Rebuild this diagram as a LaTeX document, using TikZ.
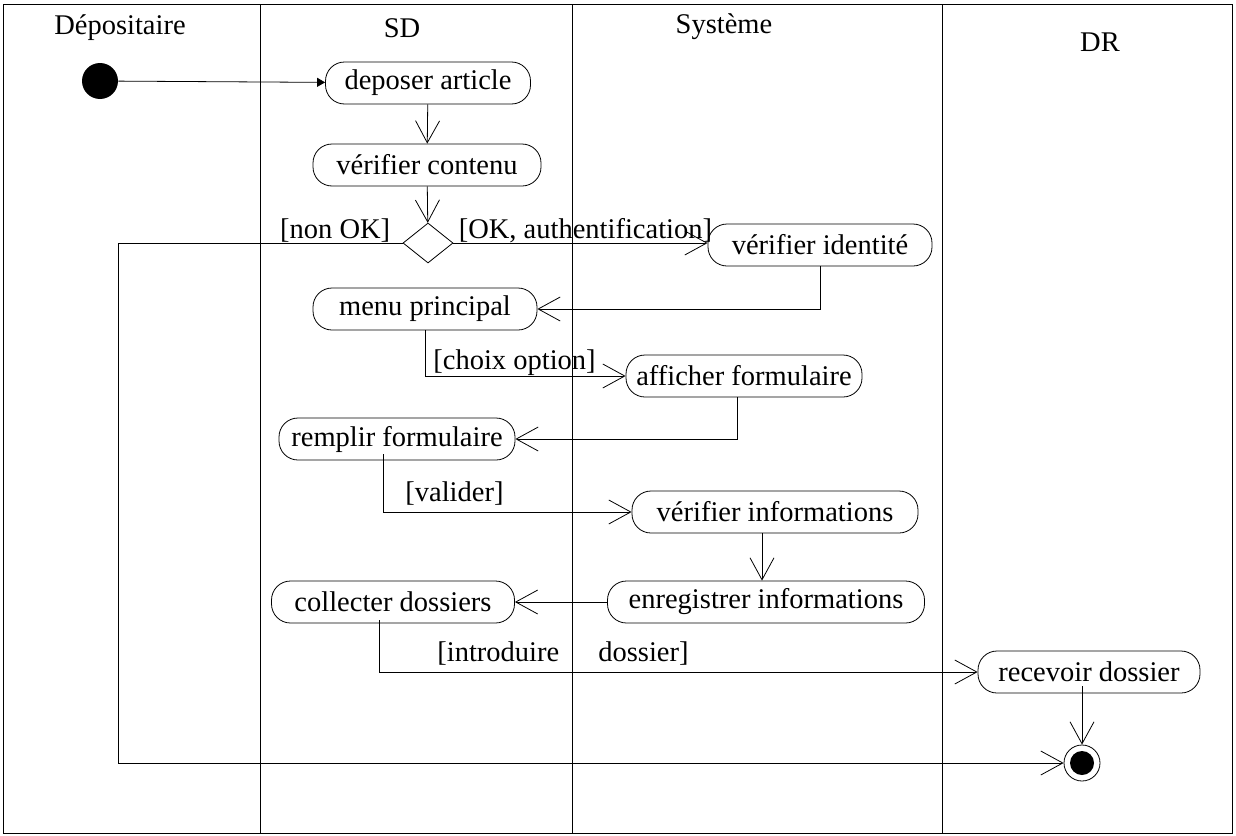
\documentclass[tikz,border=0pt]{standalone}
\usepackage{fontspec}
\setmainfont{Liberation Serif}
\usetikzlibrary{arrows.meta,shapes.geometric,positioning}

\begin{document}
\begin{tikzpicture}[x=1pt, y=-1pt, line width=0.8pt,
    font=\fontsize{28.5}{31}\selectfont,
    action/.style={draw, rectangle, rounded corners=19pt, minimum height=42pt, inner sep=2pt},
    flow/.style={-{Straight Barb[length=22pt,width=24pt]}},
    guard/.style={inner sep=0pt, anchor=south west}]
    \useasboundingbox (0,0) rectangle (1236,835);

    % Lanes
    \draw (3,4) rectangle (1232,833);
    \foreach \lx in {260,572,942} \draw (\lx,4) -- (\lx,833);
    \node (lane1) at (120,28) {Dépositaire};
    \node (lane2) at (402,28) {SD};
    \node (lane3) at (724,27) {Système};
    \node (lane4) at (1100,42) {DR};

    % Nodes
    \node[circle, fill, minimum size=36pt, inner sep=0] (start) at (100,81) {};
    \node[action, minimum width=205pt] (dep) at (428,83) {deposer article};
    \node[action, minimum width=228pt] (vcont) at (427,165) {vérifier contenu};
    \node[draw, diamond, minimum width=50pt, minimum height=40pt, inner sep=0] (dec) at (428,243) {};
    \node[action, minimum width=224pt] (vid) at (820,245) {vérifier identité};
    \node[action, minimum width=224pt] (menu) at (425,309) {menu principal};
    \node[action, minimum width=236pt] (aff) at (744,376) {afficher formulaire};
    \node[action, minimum width=236pt] (rem) at (397,439) {remplir formulaire};
    \node[action, minimum width=286pt] (vinf) at (775,512) {vérifier informations};
    \node[action, minimum width=317pt] (enr) at (766,602) {enregistrer informations};
    \node[action, minimum width=243pt] (coll) at (393,602) {collecter dossiers};
    \node[action, minimum width=222pt] (rec) at (1089,672) {recevoir dossier};
    \node[circle, draw, minimum size=36pt, inner sep=0,
        path picture={\fill (path picture bounding box.center) circle (12pt);}] (fin) at (1082,763) {};
    \coordinate (nonok bend) at (118,243);

    % Guards
    \node[guard, anchor=south east] (lnonok) at ([xshift=-12pt]dec.west) {[non OK]};
    \node[guard] (lok) at ([xshift=5pt]dec.east) {[OK, authentification]};
    \node[guard] (lchoix) at (433,376) {[choix option]};
    \node[guard] (lval) at (405,506) {[valider]};
    \node[guard] (lintro) at (437,666) {[introduire\hspace{32pt} dossier]};

    % Arrows
    \draw[-{Triangle[length=8pt,width=9pt]}] (start) -- (dep);
    \draw[flow] (dep) -- (vcont);
    \draw[flow] (vcont) -- (dec);
    \draw[flow] (dec.east) -- (dec.east -| vid.west);
    \draw[flow] (dec.west) -- (nonok bend) |- (fin.west);
    \draw[flow] (vid) |- (menu);
    \draw[flow] (menu) |- (aff);
    \draw[flow] ([xshift=-7pt]aff.south) |- (rem.east);
    \draw[flow] ([xshift=-14pt,yshift=6pt]rem.south) |- (vinf.west);
    \draw[flow] ([xshift=-13pt]vinf.south) -- ([xshift=-13pt]vinf.south |- enr.north);
    \draw[flow] (enr) -- (coll);
    \draw[flow] ([xshift=-14pt,yshift=3pt]coll.south) |- (rec.west);
    \draw[flow] ([yshift=7pt]rec.south -| fin.north) -- (fin);
\end{tikzpicture}
\end{document}
